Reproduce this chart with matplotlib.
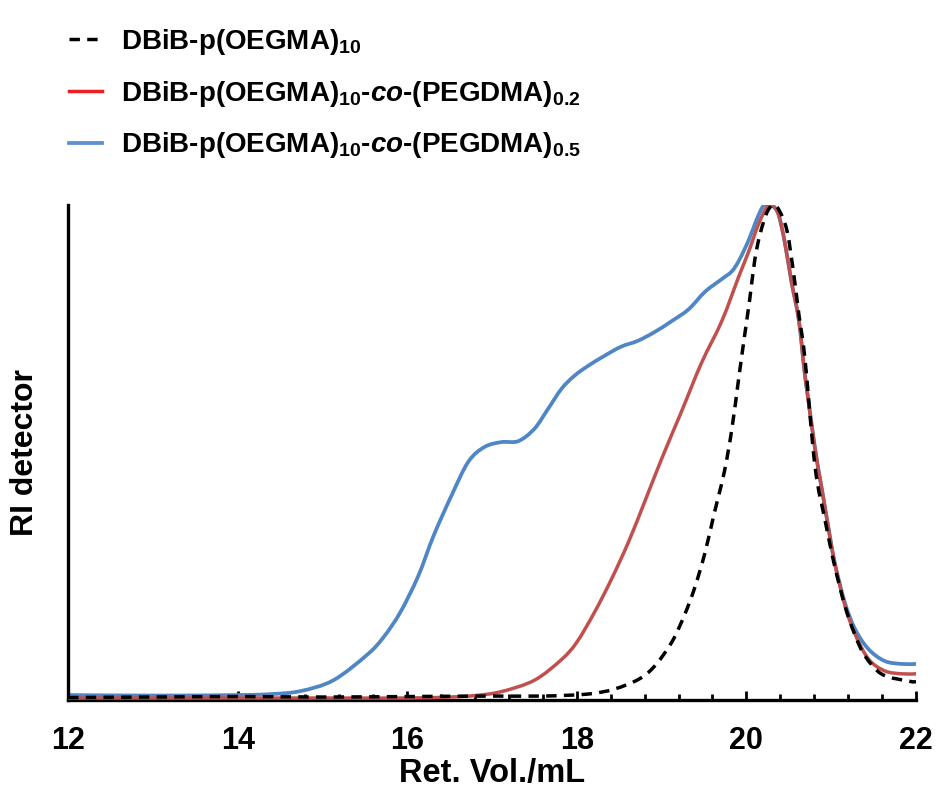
import matplotlib
matplotlib.use('Agg')
import matplotlib.pyplot as plt
from matplotlib.lines import Line2D
from matplotlib.path import Path
from matplotlib.patches import PathPatch
from matplotlib.ticker import MultipleLocator

plt.rcParams['font.family'] = ['Liberation Sans', 'DejaVu Sans']
plt.rcParams['font.weight'] = 'bold'
plt.rcParams['mathtext.fontset'] = 'custom'
plt.rcParams['mathtext.rm'] = 'Liberation Sans:bold'
plt.rcParams['mathtext.it'] = 'Liberation Sans:italic:bold'
plt.rcParams['mathtext.bf'] = 'Liberation Sans:bold'

# GPC traces, normalised RI signal vs retention volume (mL)
vol_p10 = [12.0, 13.0, 14.0, 15.0, 16.0, 17.0, 17.6, 18.13, 18.44, 18.73, 18.92,
           19.12, 19.27, 19.39, 19.51, 19.62, 19.74, 19.83, 19.91, 19.98, 20.04,
           20.1, 20.16, 20.24, 20.32, 20.39, 20.48, 20.56, 20.62, 20.69, 20.81,
           20.93, 21.04, 21.16, 21.28, 21.4, 21.6, 21.92, 22.0]
ri_p10 = [0.003, 0.004, 0.005, 0.004, 0.005, 0.006, 0.006, 0.010, 0.020, 0.040,
          0.067, 0.115, 0.170, 0.225, 0.295, 0.375, 0.460, 0.548, 0.650, 0.737,
          0.810, 0.890, 0.940, 0.984, 1.000, 0.988, 0.947, 0.858, 0.777, 0.690,
          0.470, 0.360, 0.270, 0.190, 0.130, 0.087, 0.050, 0.036, 0.035]

vol_co02 = [12.0, 13.0, 14.0, 15.0, 16.0, 16.5, 16.8, 17.11, 17.5, 17.82, 18.0,
            18.21, 18.41, 18.61, 18.8, 19.0, 19.23, 19.47, 19.71, 19.91, 20.03,
            20.14, 20.24, 20.3, 20.38, 20.45, 20.53, 20.62, 20.69, 20.81, 20.89,
            20.97, 21.04, 21.16, 21.28, 21.44, 21.63, 21.83, 22.0]
ri_co02 = [0.002, 0.002, 0.002, 0.002, 0.002, 0.004, 0.007, 0.015, 0.038, 0.080,
           0.115, 0.176, 0.243, 0.318, 0.399, 0.486, 0.580, 0.680, 0.765, 0.855,
           0.907, 0.960, 0.995, 1.000, 0.980, 0.927, 0.846, 0.765, 0.656, 0.506,
           0.425, 0.344, 0.277, 0.190, 0.132, 0.081, 0.057, 0.051, 0.051]

vol_co05 = [12.0, 13.0, 14.0, 14.4, 14.74, 15.13, 15.53, 15.72, 15.92, 16.13,
            16.31, 16.52, 16.72, 16.91, 17.11, 17.31, 17.5, 17.66, 17.82, 17.97,
            18.13, 18.32, 18.52, 18.72, 18.92, 19.12, 19.32, 19.51, 19.71, 19.83,
            19.92, 20.03, 20.12, 20.2, 20.27, 20.33, 20.38, 20.45, 20.53, 20.62,
            20.69, 20.73, 20.81, 20.89, 20.97, 21.04, 21.16, 21.28, 21.44, 21.63,
            21.83, 22.0]
ri_co05 = [0.008, 0.007, 0.008, 0.010, 0.016, 0.038, 0.090, 0.125, 0.176, 0.249,
           0.330, 0.411, 0.480, 0.510, 0.520, 0.522, 0.547, 0.587, 0.628, 0.654,
           0.674, 0.694, 0.713, 0.725, 0.743, 0.765, 0.789, 0.824, 0.850, 0.866,
           0.890, 0.930, 0.970, 0.998, 1.000, 0.995, 0.980, 0.927, 0.846, 0.765,
           0.656, 0.607, 0.506, 0.425, 0.344, 0.277, 0.196, 0.142, 0.101, 0.077,
           0.071, 0.071]

labels = [r'DBiB-p(OEGMA)$_{10}$',
          r'DBiB-p(OEGMA)$_{10}$-$\mathit{co}$-(PEGDMA)$_{0.2}$',
          r'DBiB-p(OEGMA)$_{10}$-$\mathit{co}$-(PEGDMA)$_{0.5}$']


def smooth_curve(x, y):
    """Bezier path through the points (Catmull-Rom tangents), like a smoothed line."""
    pts = list(zip(x, y))
    n = len(pts)
    verts = [pts[0]]
    codes = [Path.MOVETO]
    for i in range(n - 1):
        p0 = pts[max(i - 1, 0)]
        p1 = pts[i]
        p2 = pts[i + 1]
        p3 = pts[min(i + 2, n - 1)]
        c1 = (p1[0] + (p2[0] - p0[0]) / 6, p1[1] + (p2[1] - p0[1]) / 6)
        c2 = (p2[0] - (p3[0] - p1[0]) / 6, p2[1] - (p3[1] - p1[1]) / 6)
        verts += [c1, c2, p2]
        codes += [Path.CURVE4] * 3
    return Path(verts, codes)


fig = plt.figure(figsize=(9.36, 7.96), dpi=100)
ax = fig.add_axes([0.0727, 0.1206, 0.9059, 0.6219])

lw = 2.5
blue = '#4F86C6'
red = '#C0504D'
ax.add_patch(PathPatch(smooth_curve(vol_co05, ri_co05), fill=False,
                       edgecolor=blue, lw=2.7, capstyle='round', zorder=2))
ax.add_patch(PathPatch(smooth_curve(vol_co02, ri_co02), fill=False,
                       edgecolor=red, lw=lw, capstyle='round', zorder=3))
ax.add_patch(PathPatch(smooth_curve(vol_p10, ri_p10), fill=False,
                       edgecolor='black', lw=lw, linestyle=(0, (3.0, 2.1)),
                       zorder=4))

ax.set_xlim(12, 22)
ax.set_ylim(-0.002, 1.0)

for side in ['top', 'right']:
    ax.spines[side].set_visible(False)
for side in ['left', 'bottom']:
    ax.spines[side].set_linewidth(2.4)
    ax.spines[side].set_color('black')

ax.xaxis.set_major_locator(MultipleLocator(2))
ax.xaxis.set_minor_locator(MultipleLocator(0.4))
ax.tick_params(axis='x', which='major', direction='in', length=6.5, width=2,
               labelsize=22, pad=19)
ax.tick_params(axis='x', which='minor', direction='in', length=4, width=2)
ax.set_yticks([])
for t in ax.get_xticklabels():
    t.set_fontweight('bold')

ax.set_xlabel('Ret. Vol./mL', fontsize=23.5, fontweight='bold', labelpad=1)
ax.set_ylabel('RI detector', fontsize=23, fontweight='bold', labelpad=20)

handles = [Line2D([], [], color='black', lw=lw, dashes=(3.0, 2.1)),
           Line2D([], [], color='#EE1C24', lw=lw),
           Line2D([], [], color='#5B8FCF', lw=2.7)]
fig.legend(handles, labels, loc='upper left', bbox_to_anchor=(0.062, 0.98),
           frameon=False, fontsize=20, handlelength=1.2, handletextpad=0.65,
           labelspacing=0.78, borderaxespad=0)

fig.savefig('out.png', dpi=100)
